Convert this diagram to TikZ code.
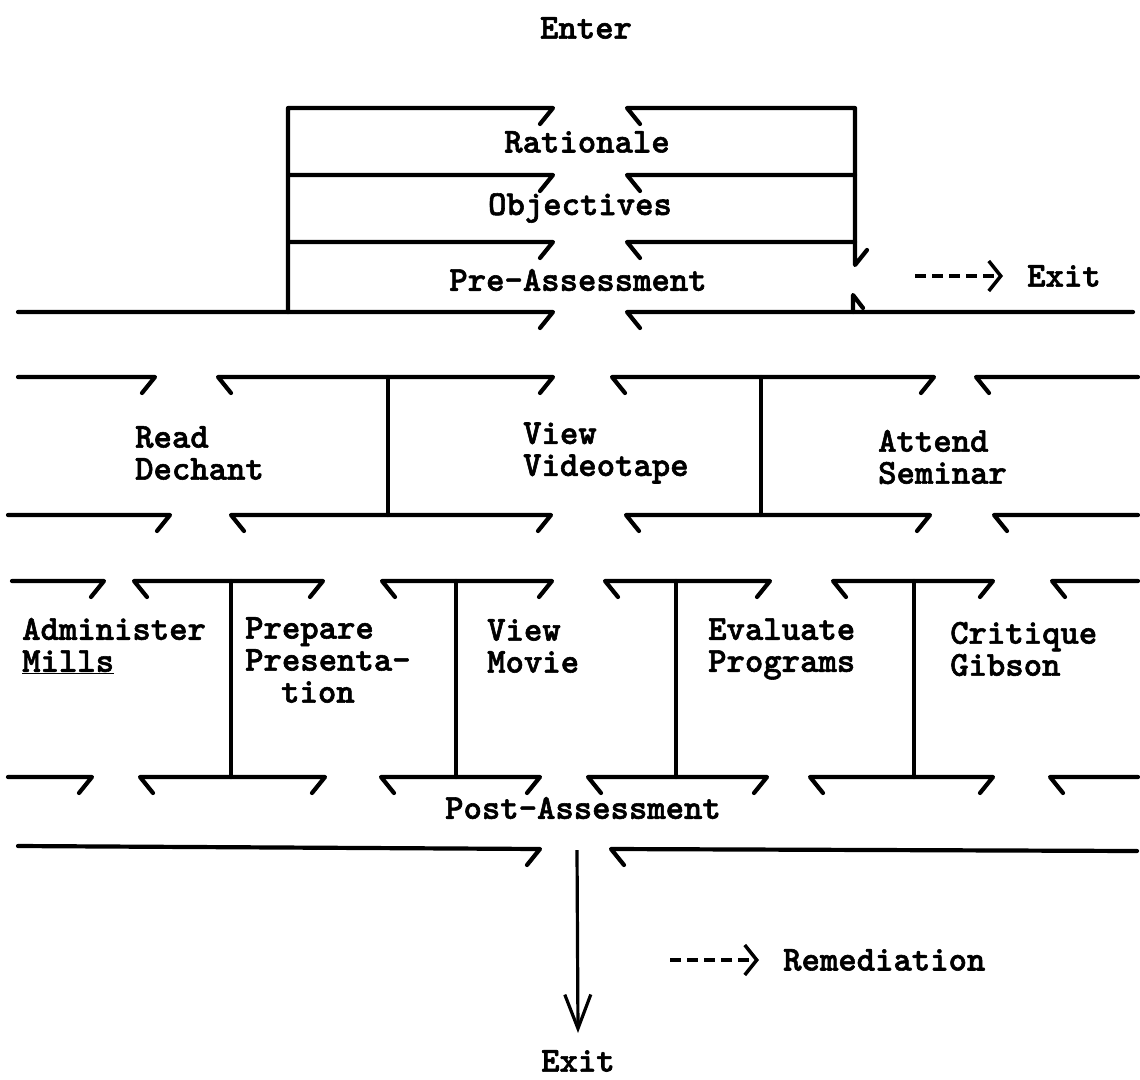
\documentclass[tikz,border=0pt]{standalone}
\usepackage{fontspec}
\newfontfamily\tw{lmmonolt10-bold}[Extension=.otf,FakeBold=1.6]
\usetikzlibrary{arrows.meta}
\begin{document}
\begin{tikzpicture}[x=1pt,y=-1pt,
  beam/.style={line width=4.2pt,line join=round,line cap=round},
  lbl/.style={font={\tw\fontsize{35}{32}\selectfont},inner sep=0pt,align=left},
  dashline/.style={line width=4pt,dash pattern=on 11pt off 6pt,
     -{Straight Barb[length=12pt,width=30pt,line width=3.5pt]}},
  downarrow/.style={line width=3.2pt,-{Straight Barb[length=34pt,width=26pt,line width=3.2pt]}}]
\useasboundingbox[fill=white] (0,0) rectangle (1140,1079);

% ---------- texts ----------
\node[lbl] (enter) at (586,28) {Enter};
\node[lbl] (rat) at (587,142) {Rationale};
\node[lbl] (obj) at (580,208) {Objectives};
\node[lbl] (pre) at (578,280) {Pre-Assessment};
\node[lbl,anchor=west] (exitA) at (1027,276) {Exit};
\node[lbl,anchor=west] (read) at (135,453) {Read\\Dechant};
\node[lbl,anchor=west] (vtape) at (523,453) {View\\Videotape};
\node[lbl,anchor=west] (attend) at (878,457) {Attend\\Seminar};
\node[lbl,anchor=west] (admin) at (22,646) {Administer\\\underline{Mills}};
\node[lbl,anchor=west] (prep) at (245,660) {Prepare\\Presenta-\\\hspace*{36pt}tion};
\node[lbl,anchor=west] (movie) at (487,646) {View\\Movie};
\node[lbl,anchor=west] (eval) at (708,649) {Evaluate\\Programs};
\node[lbl,anchor=west] (crit) at (950,649) {Critique\\Gibson};
\node[lbl] (post) at (583,808) {Post-Assessment};
\node[lbl,anchor=west] (remed) at (783,960) {Remediation};
\node[lbl] (exitB) at (578,1061) {Exit};

% ---------- top block ----------
\draw[beam] (540,124) -- (553,108) -- (288,108) -- (288,312);
\draw[beam] (290,175) -- (553,175) -- (540,191);
\draw[beam] (290,242) -- (553,242) -- (540,258);
\draw[beam] (18,312) -- (553,312) -- (540,328);
\draw[beam] (640,124) -- (627,108) -- (855,108) -- (855,265) -- (867,250);
\draw[beam] (640,191) -- (627,175) -- (855,175);
\draw[beam] (640,258) -- (627,242) -- (855,242);
\draw[beam] (640,328) -- (627,312) -- (1133,312);
\draw[beam] (853,312) -- (853,295) -- (863,308);
\coordinate (dA) at (915,276);
\draw[dashline] (dA) -- ([xshift=-24pt]exitA.west);

% ---------- row 2 ----------
\draw[beam] (18,377) -- (155,377) -- (142,393);
\draw[beam] (231,393) -- (218,377) -- (553,377) -- (540,393);
\draw[beam] (625,393) -- (612,377) -- (934,377) -- (921,393);
\draw[beam] (989,393) -- (976,377) -- (1138,377);
\draw[beam] (8,515) -- (170,515) -- (157,531);
\draw[beam] (244,531) -- (231,515) -- (551,515) -- (538,531);
\draw[beam] (639,531) -- (626,515) -- (930,515) -- (917,531);
\draw[beam] (1007,531) -- (994,515) -- (1138,515);
\draw[beam] (388,377) -- (388,515);
\draw[beam] (761,377) -- (761,515);

% ---------- row 3 ----------
\draw[beam] (12,581) -- (104,581) -- (91,597);
\draw[beam] (147,597) -- (134,581) -- (323,581) -- (310,597);
\draw[beam] (395,597) -- (382,581) -- (552,581) -- (539,597);
\draw[beam] (618,597) -- (605,581) -- (770,581) -- (757,597);
\draw[beam] (846,597) -- (833,581) -- (993,581) -- (980,597);
\draw[beam] (1065,597) -- (1052,581) -- (1138,581);
\draw[beam] (8,777) -- (92,777) -- (79,793);
\draw[beam] (153,793) -- (140,777) -- (325,777) -- (312,793);
\draw[beam] (394,793) -- (381,777) -- (540,777) -- (527,793);
\draw[beam] (601,793) -- (588,777) -- (767,777) -- (754,793);
\draw[beam] (823,793) -- (810,777) -- (993,777) -- (980,793);
\draw[beam] (1063,793) -- (1050,777) -- (1138,777);
\draw[beam] (231,581) -- (231,777);
\draw[beam] (456,581) -- (456,777);
\draw[beam] (676,581) -- (676,777);
\draw[beam] (914,581) -- (914,777);

% ---------- bottom ----------
\draw[beam] (18,846) -- (540,849) -- (527,865);
\draw[beam] (624,865) -- (611,849) -- (1137,851);
\coordinate (pstart) at (577,850);
\draw[downarrow] (pstart) -- ([yshift=17pt]exitB.north);
\coordinate (dB) at (670,960);
\draw[dashline] (dB) -- ([xshift=-24pt]remed.west);
\end{tikzpicture}
\end{document}
